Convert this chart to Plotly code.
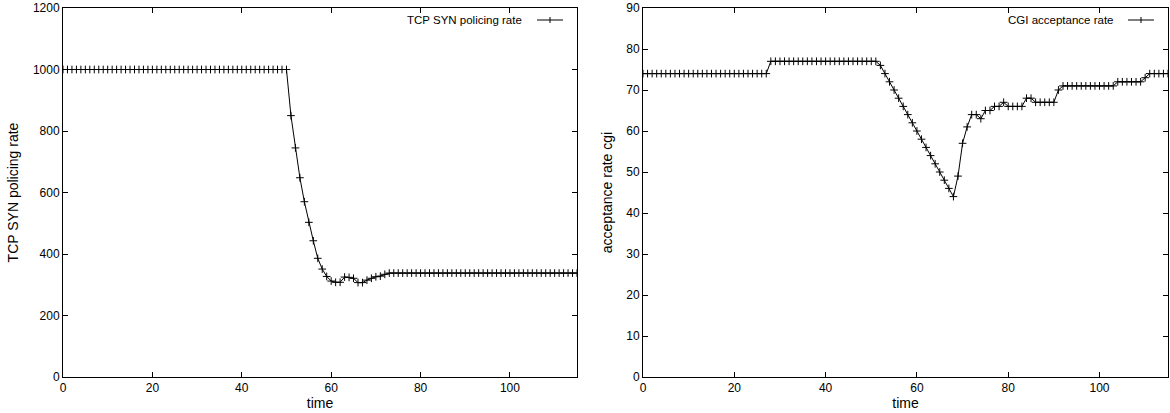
import plotly.graph_objects as go
from plotly.subplots import make_subplots

time = list(range(116))

tcp_syn_rate = [
    1000, 1000, 1000, 1000, 1000, 1000, 1000, 1000, 1000, 1000,
    1000, 1000, 1000, 1000, 1000, 1000, 1000, 1000, 1000, 1000,
    1000, 1000, 1000, 1000, 1000, 1000, 1000, 1000, 1000, 1000,
    1000, 1000, 1000, 1000, 1000, 1000, 1000, 1000, 1000, 1000,
    1000, 1000, 1000, 1000, 1000, 1000, 1000, 1000, 1000, 1000,
    1000, 850, 745, 648, 570, 503, 443, 386, 351, 327,
    312, 308, 308, 325, 324, 321, 307, 307, 315, 321,
    326, 328, 334, 338, 338, 338, 338, 338, 338, 338,
    338, 338, 338, 338, 338, 338, 338, 338, 338, 338,
    338, 338, 338, 338, 338, 338, 338, 338, 338, 338,
    338, 338, 338, 338, 338, 338, 338, 338, 338, 338,
    338, 338, 338, 338, 338, 338,
]

cgi_rate = [
    74, 74, 74, 74, 74, 74, 74, 74, 74, 74,
    74, 74, 74, 74, 74, 74, 74, 74, 74, 74,
    74, 74, 74, 74, 74, 74, 74, 74, 77, 77,
    77, 77, 77, 77, 77, 77, 77, 77, 77, 77,
    77, 77, 77, 77, 77, 77, 77, 77, 77, 77,
    77, 77, 76, 74, 72, 70, 68, 66, 64, 62,
    60, 58, 56, 54, 52, 50, 48, 46, 44, 49,
    57, 61, 64, 64, 63, 65, 65, 66, 66, 67,
    66, 66, 66, 66, 68, 68, 67, 67, 67, 67,
    67, 70, 71, 71, 71, 71, 71, 71, 71, 71,
    71, 71, 71, 71, 72, 72, 72, 72, 72, 72,
    73, 74, 74, 74, 74, 74,
]

x_ticks = [0, 20, 40, 60, 80, 100]
left_y_ticks = [0, 200, 400, 600, 800, 1000, 1200]
right_y_ticks = [0, 10, 20, 30, 40, 50, 60, 70, 80, 90]

FONT = "Liberation Sans"
W, H = 1170, 413
ML, MR, MT, MB = 63, 2, 8, 36
plot_w = W - ML - MR
plot_h = H - MT - MB

fig = make_subplots(rows=1, cols=2)

marker_style = dict(symbol="cross-thin", size=5.5, line=dict(color="black", width=1), color="black")

fig.add_trace(go.Scatter(
    x=time, y=tcp_syn_rate, mode="lines+markers", name="TCP SYN policing rate",
    line=dict(color="black", width=1), marker=marker_style,
    showlegend=False), row=1, col=1)

fig.add_trace(go.Scatter(
    x=time, y=cgi_rate, mode="lines+markers", name="CGI acceptance rate",
    line=dict(color="black", width=1), marker=marker_style,
    showlegend=False), row=1, col=2)

left_dom = [0, (577 - ML) / plot_w]
right_dom = [(643 - ML) / plot_w, 1.0]

axis_common = dict(
    showline=True, linecolor="black", linewidth=1, mirror="ticks",
    ticks="inside", ticklen=5, tickcolor="black", tickwidth=1,
    showgrid=False, zeroline=False, automargin=False,
    tickfont=dict(family=FONT, size=12, color="black"),
)

fig.update_xaxes(**axis_common)
fig.update_yaxes(**axis_common)

title_font = dict(family=FONT, size=14, color="black")

fig.update_layout(
    xaxis=dict(domain=left_dom, range=[0, 115], tickvals=x_ticks,
               title=dict(text="time", font=title_font, standoff=0)),
    xaxis2=dict(domain=right_dom, range=[0, 115], tickvals=x_ticks,
                title=dict(text="time", font=title_font, standoff=0)),
    yaxis=dict(range=[0, 1200], tickvals=left_y_ticks,
               title=dict(text="TCP SYN policing rate", font=title_font, standoff=10)),
    yaxis2=dict(range=[0, 90], tickvals=right_y_ticks,
                title=dict(text="acceptance rate cgi", font=title_font, standoff=10)),
    width=W, height=H,
    margin=dict(l=ML, r=MR, t=MT, b=MB),
    plot_bgcolor="white", paper_bgcolor="white",
    showlegend=False,
)

# gnuplot-style keys (text, then a line sample with a "+" marker), top right of each panel
key_y = (plot_h - 12) / plot_h
half_tick = 3 / plot_h

keys = [
    ("x domain", "y domain", "TCP SYN policing rate", 577 - 63),
    ("x2 domain", "y2 domain", "CGI acceptance rate", 1168 - 643),
]
for xref, yref, label, wpx in keys:
    x_line0 = 1 - 40 / wpx
    x_line1 = 1 - 14 / wpx
    x_mid = (x_line0 + x_line1) / 2
    x_text = 1 - 53 / wpx
    fig.add_shape(type="line", xref=xref, yref=yref, x0=x_line0, x1=x_line1,
                  y0=key_y, y1=key_y, line=dict(color="black", width=1))
    fig.add_shape(type="line", xref=xref, yref=yref, x0=x_mid, x1=x_mid,
                  y0=key_y - half_tick, y1=key_y + half_tick, line=dict(color="black", width=1))
    fig.add_annotation(xref=xref, yref=yref, x=x_text, y=key_y, text=label,
                       showarrow=False, xanchor="right", yanchor="middle",
                       font=dict(family=FONT, size=11.5, color="black"))

fig.write_html(
    "out.html",
    config={"displayModeBar": False},
    post_script="document.body.style.margin='0';document.body.style.padding='0';",
)
